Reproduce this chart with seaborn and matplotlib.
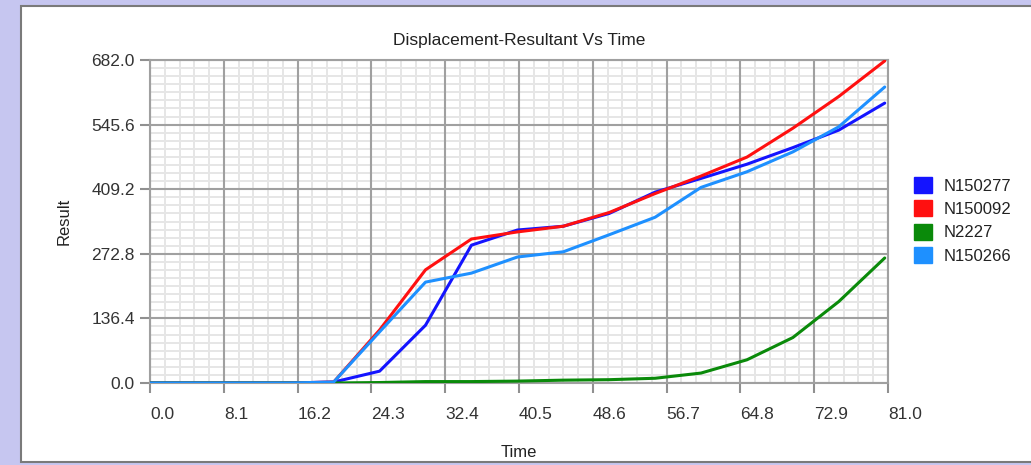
import numpy as np
import pandas as pd
import matplotlib
matplotlib.use("Agg")
import matplotlib.pyplot as plt
from matplotlib.patches import Rectangle, Patch
from matplotlib.ticker import FixedLocator
import seaborn as sns

time = [0.0, 5.04, 10.08, 15.12, 20.16, 25.2, 30.24, 35.28, 40.32, 45.36,
        50.4, 55.44, 60.48, 65.52, 70.56, 75.6, 80.64]
n150277 = [0, 0, 0, 0, 2, 25, 122, 291, 323, 331, 358, 403, 432, 462, 497, 534, 591]
n150092 = [0, 0, 0, 0, 2, 112, 239, 304, 319, 331, 360, 400, 437, 477, 538, 605, 680]
n2227 = [0, 0, 0, 0, 0, 1, 3, 3, 4, 6, 7, 10, 21, 49, 96, 172, 264]
n150266 = [0, 0, 0, 0, 2, 108, 213, 232, 266, 277, 313, 350, 413, 446, 488, 541, 625]

series_names = ["N150277", "N150092", "N2227", "N150266"]
series_colors = ["#1414ff", "#ff1010", "#0a8a0a", "#1e90ff"]
x_ticks = [0.0, 8.1, 16.2, 24.3, 32.4, 40.5, 48.6, 56.7, 64.8, 72.9, 81.0]
y_ticks = [0.0, 136.4, 272.8, 409.2, 545.6, 682.0]

frames = []
for name, vals in zip(series_names, [n150277, n150092, n2227, n150266]):
    frames.append(pd.DataFrame({"Time": time, "Result": vals, "Node": name}))
df = pd.concat(frames, ignore_index=True)

sns.set_style("white")
plt.rcParams["font.family"] = ["Liberation Sans", "DejaVu Sans"]

fig = plt.figure(figsize=(10.31, 4.65), dpi=100, facecolor="#c6c6f0")
# white panel behind everything
fig.patches.append(Rectangle((21 / 1031, 3 / 465), 1.1, (459 - 3) / 465,
                             transform=fig.transFigure, facecolor="white",
                             edgecolor="#7a7a7a", lw=1.5, zorder=-10))

ax = fig.add_axes([150 / 1031, (465 - 383) / 465, 738 / 1031, 323 / 465])
ax.set_zorder(2)
ax.set_facecolor("white")

sns.lineplot(data=df, x="Time", y="Result", hue="Node", hue_order=series_names,
             palette=series_colors, linewidth=2.2, ax=ax, legend=False,
             zorder=5)

ax.set_xlim(0, 81.0)
ax.set_ylim(0, 682.0)
ax.xaxis.set_major_locator(FixedLocator(x_ticks))
ax.yaxis.set_major_locator(FixedLocator(y_ticks))
x_minor = [i * 8.1 / 5 for i in range(51) if i % 5 != 0]
y_minor = [i * 136.4 / 8 for i in range(41) if i % 8 != 0]
ax.xaxis.set_minor_locator(FixedLocator(x_minor))
ax.yaxis.set_minor_locator(FixedLocator(y_minor))
ax.set_xticklabels([f"{v:.1f}" for v in x_ticks], ha="left")
ax.set_yticklabels([f"{v:.1f}" for v in y_ticks])

# minor grid below, major grid lines drawn over it
ax.grid(which="minor", color="#e6e6e6", lw=1.4)
ax.grid(which="major", visible=False)
ax.set_axisbelow(True)
for xv in x_ticks:
    ax.axvline(xv, color="#a0a0a0", lw=1.5, zorder=1)
for yv in y_ticks:
    ax.axhline(yv, color="#a0a0a0", lw=1.5, zorder=1)
for s in ax.spines.values():
    s.set_color("#a0a0a0")
    s.set_linewidth(1.5)

ax.tick_params(axis="both", which="major", direction="out", length=7,
               width=1.5, color="#909090", labelsize=12.5, labelcolor="#333333",
               bottom=True, left=True)
ax.tick_params(axis="x", which="major", pad=10)
ax.tick_params(axis="y", which="major", pad=4)
ax.tick_params(which="minor", length=0, bottom=False, left=False)

ax.set_xlabel("Time", fontsize=12, color="#222222", labelpad=17)
ax.set_ylabel("Result", fontsize=12, color="#222222", labelpad=14)
ax.set_title("Displacement-Resultant Vs Time", fontsize=12.5, color="#222222",
             pad=11)

handles = [Patch(facecolor=c, edgecolor=c, label=n)
           for n, c in zip(series_names, series_colors)]
fig.legend(handles=handles, loc="upper left",
           bbox_to_anchor=(899 / 1031, (465 - 162) / 465), frameon=False,
           fontsize=12, handlelength=1.1, handleheight=1.1,
           handletextpad=0.7, labelspacing=0.40, labelcolor="#222222")

fig.savefig("out.png", dpi=100, facecolor=fig.get_facecolor())
